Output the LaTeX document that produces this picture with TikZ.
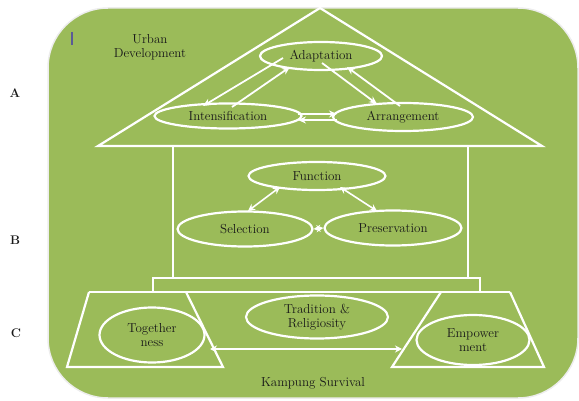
\documentclass[tikz,border=0pt]{standalone}
\usepackage{fontspec}
\usetikzlibrary{shapes.geometric}
\usetikzlibrary{arrows.meta}
\definecolor{panelgreen}{HTML}{9BBB59}
\definecolor{cursorblue}{RGB}{90,90,150}
\tikzset{
every node/.style={ % Serif text for all labels
font=\fontsize{13}{14}\selectfont,
text=black!90,
align=center},
level/.style={font=\fontsize{12.5}{14}\selectfont\bfseries},
bubble/.style={ % White ellipses around the concepts
ellipse,
draw=white,
line width=2.2pt,
inner sep=0pt},
frame/.style={draw=white, line width=2.2pt},
every edge/.style={ % One-way links, white with solid heads
draw=white,
line width=1.8pt,
-{Stealth[length=8pt,width=7pt]}},
both/.style={{Stealth[length=7pt,width=7pt]}-{Stealth[length=7pt,width=7pt]}}}

\begin{document}
\begin{tikzpicture}[x=1pt, y=-1pt]
	\useasboundingbox (0,0) rectangle (579,401);
	% green panel behind the house
	\fill[panelgreen, draw=black!7, line width=1.5pt, rounded corners=60pt] (48,8) rectangle (578,398);
	\draw[cursorblue, line width=1.2pt] (72,32) -- (72,45);
	% roof, walls, plinth and the two feet
	\draw[frame] (320,8) -- (98,146) -- (542,146) -- cycle;
	\draw[frame] (173,146) -- (173,278) (468,146) -- (468,278);
	\draw[frame] (153,292) -- (153,278) -- (480,278) -- (480,292);
	\draw[frame] (89,292) -- (510,292);
	\draw[frame] (89,292) -- (67,367) -- (223,367) -- (186,292);
	\draw[frame] (441,292) -- (392,367) -- (544,367) -- (510,292);
	\node[level] (lvlA) at (15,93) {A};
	\node[level] (lvlB) at (15,240) {B};
	\node[level] (lvlC) at (16,333) {C};
	\node (urban) at (150,47) {Urban\\Development};
	\node (survival) at (313,383) {Kampung Survival};
	\node[bubble, minimum width=122pt, minimum height=28pt] (adapt) at (321,56) {Adaptation};
	\node[bubble, minimum width=147pt, minimum height=25pt] (intens) at (228,116) {Intensification};
	\node[bubble, minimum width=140pt, minimum height=28pt] (arrange) at (403,117) {Arrangement};
	\node[bubble, minimum width=137pt, minimum height=28pt] (func) at (317,176) {Function};
	\node[bubble, minimum width=135pt, minimum height=35pt] (select) at (245,229) {Selection};
	\node[bubble, minimum width=137pt, minimum height=35pt] (preserve) at (393,228) {Preservation};
	\node[bubble, minimum width=105pt, minimum height=55pt] (together) at (152,335) {Together\\ness};
	\node[bubble, minimum width=142pt, minimum height=43pt] (tradition) at (317,317) {Tradition \&\\Religiosity};
	\node[bubble, minimum width=113pt, minimum height=50pt] (empower) at (473,340) {Empower\\ment};
	\draw ([shift={(-38,2)}]adapt.center) edge ([shift={(-25,-10)}]intens.center);
	\draw ([shift={(4,-9)}]intens.center) edge ([shift={(-31,11)}]adapt.center);
	\draw ([shift={(1,7)}]adapt.center) edge ([shift={(-26,-13)}]arrange.center);
	\draw ([shift={(-3,-11)}]arrange.center) edge ([shift={(26,11)}]adapt.center);
	\draw ([shift={(70,-2)}]intens.center) edge ([shift={(-66,-3)}]arrange.center);
	\draw ([shift={(-66,3)}]arrange.center) edge ([shift={(70,4)}]intens.center);
	\draw ([shift={(-37,11)}]func.center) edge[both, line width=1.6pt] ([shift={(3,-18)}]select.center);
	\draw ([shift={(23,11)}]func.center) edge[both, line width=1.6pt] ([shift={(-16,-17)}]preserve.center);
	\draw (select.east) edge[both, line width=1.6pt] (preserve.west);
	\draw ([shift={(58,14)}]together.center) edge[both, line width=1.6pt] ([shift={(-71,9)}]empower.center);
\end{tikzpicture}
\end{document}
